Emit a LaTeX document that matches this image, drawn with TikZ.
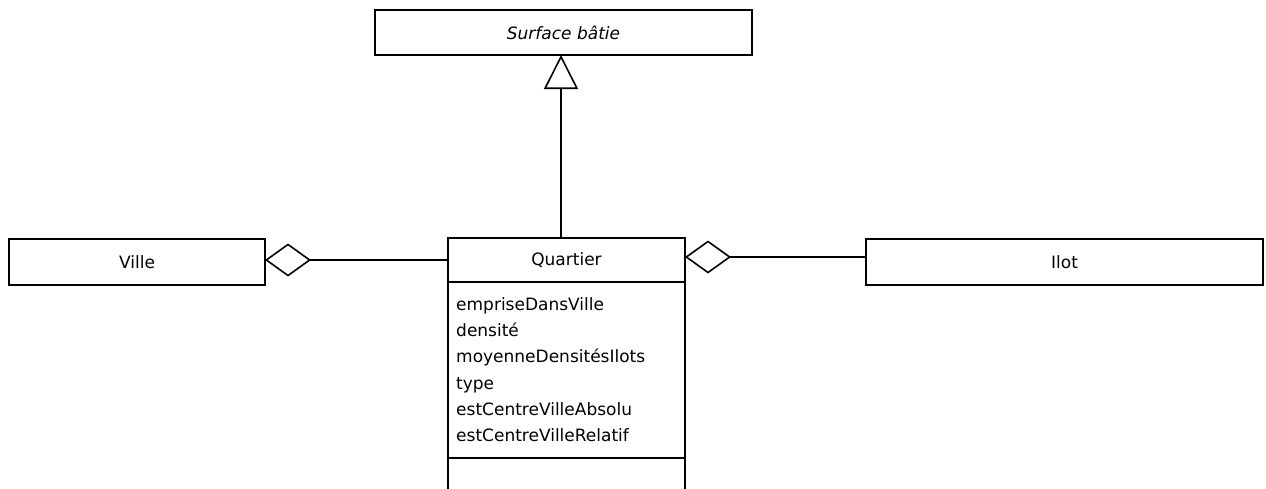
\documentclass[tikz,border=0pt]{standalone}
\usepackage{fontspec}
\setmainfont{DejaVu Sans}
\usetikzlibrary{arrows.meta}
\begin{document}
\begin{tikzpicture}[x=1pt,y=-1pt,
  cls/.style={draw=black, fill=white, line width=1.8pt, rectangle, inner sep=0pt, outer sep=0pt,
    font=\fontsize{17}{20}\selectfont},
  attr/.style={anchor=base west, inner sep=0pt, font=\fontsize{17}{20}\selectfont},
  gen/.style={draw=black, line width=1.6pt, -{Triangle[open, length=34pt, width=34pt, line width=1.6pt]}},
  agg/.style={draw=black, line width=1.6pt, {Diamond[open, length=46pt, width=33pt, line width=1.6pt]}-}]
  \fill[white] (0,0) rectangle (1266,488);
  \useasboundingbox (0,0) rectangle (1266,488);
  \clip (0,0) rectangle (1266,488);

  % classes
  \node[cls, minimum width=377pt, minimum height=45pt] (surf) at (563.5,32.5) {\textit{Surface bâtie}};
  \node[cls, minimum width=256pt, minimum height=46pt] (ville) at (137,262) {Ville};
  \node[cls, minimum width=397pt, minimum height=46pt] (ilot) at (1064.5,262) {Ilot};

  % Quartier: name, attributes, operations
  \node[cls, minimum width=237pt, minimum height=44pt] (qname) at (566.5,260) {Quartier};
  \node[cls, minimum width=237pt, minimum height=176pt, anchor=north] (qattr) at (qname.south) {};
  \node[cls, minimum width=237pt, minimum height=40pt, anchor=north] (qops) at (qattr.south) {};

  \foreach \t [count=\i from 0] in {empriseDansVille, densité, moyenneDensitésIlots, type,
      estCentreVilleAbsolu, estCentreVilleRelatif}
    \node[attr] (a\i) at (456, 310+26.35*\i) {\t};

  % generalization
  \coordinate (gx) at (561,0);
  \draw[gen] (qname.north -| gx) -- (surf.south -| gx);

  % aggregations
  \draw[agg] ([yshift=2pt]ville.east) -- ([yshift=2pt]ville.east -| qname.west);
  \draw[agg] ([yshift=3pt]qname.east) -- ([yshift=3pt]qname.east -| ilot.west);
\end{tikzpicture}
\end{document}
